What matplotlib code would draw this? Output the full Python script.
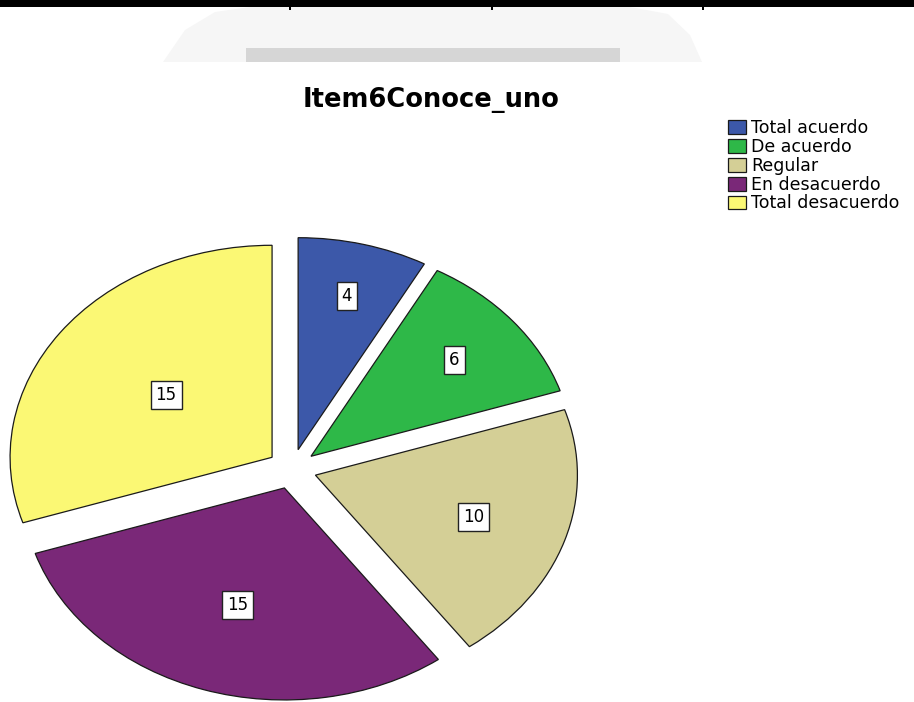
import numpy as np
import matplotlib
matplotlib.use("Agg")
import matplotlib.pyplot as plt
from matplotlib.patches import Rectangle, Polygon

# data
categories = ['Total acuerdo', 'De acuerdo', 'Regular', 'En desacuerdo', 'Total desacuerdo']
counts = [4, 6, 10, 15, 15]
colors = ['#3C58A9', '#2EB848', '#D4CF96', '#7A2878', '#FBF874']
title = 'Item6Conoce_uno'

# layout: distance of each value box from its wedge tip (fraction of radius)
label_dist = [0.75, 0.71, 0.635, 0.58, 0.50]

W, H = 914, 702
fig = plt.figure(figsize=(W / 100, H / 100), dpi=100)
fig.patch.set_facecolor('white')


def fx(px):
    return px / W


def fy(py):
    return 1 - py / H


# page decoration at the top (scanned document look)
wm = Polygon([(fx(163), fy(62)), (fx(185), fy(30)), (fx(215), fy(12)), (fx(250), fy(7)),
              (fx(630), fy(7)), (fx(668), fy(14)), (fx(690), fy(35)), (fx(702), fy(62))],
             closed=True, transform=fig.transFigure, facecolor='#f6f6f6', edgecolor='none')
fig.patches.append(wm)
fig.patches.append(Rectangle((fx(246), fy(62)), fx(620) - fx(246), fy(48) - fy(62),
                             transform=fig.transFigure, facecolor='#d6d6d6', edgecolor='none'))
fig.patches.append(Rectangle((0, fy(7)), 1, fy(0) - fy(7), transform=fig.transFigure,
                             facecolor='black', edgecolor='none'))
for tx in [290, 492, 703]:
    fig.patches.append(Rectangle((fx(tx - 1), fy(10)), fx(2), fy(0) - fy(10),
                                 transform=fig.transFigure, facecolor='black', edgecolor='none'))

# pie: the image is stretched horizontally, so use a non-equal aspect
cx, cy, rx, ry = 292, 469, 262, 212
ax = fig.add_axes([0, 0, 1, 1])
wedges, _ = ax.pie(counts, colors=colors, startangle=90, counterclock=False,
                   explode=[0.094] * len(counts),
                   wedgeprops=dict(edgecolor='#1a1a1a', linewidth=0.9))
ax.set_aspect('auto')
ax.set_xlim(-cx / rx, (W - cx) / rx)
ax.set_ylim(-(H - cy) / ry, cy / ry)
ax.axis('off')

# value labels
for w, n, d in zip(wedges, counts, label_dist):
    mid = np.deg2rad((w.theta1 + w.theta2) / 2)
    x = w.center[0] + d * w.r * np.cos(mid)
    y = w.center[1] + d * w.r * np.sin(mid)
    ax.text(x, y, str(n), ha='center', va='center', fontsize=12,
            bbox=dict(boxstyle='square,pad=0.3', facecolor='white', edgecolor='#222222', linewidth=1.0))

fig.text(fx(431), fy(100), title, ha='center', va='center', fontsize=18.5, fontweight='bold')

fig.legend(wedges, categories, loc='upper left', bbox_to_anchor=(fx(728), fy(119)),
           frameon=False, fontsize=12.5, handlelength=1.05, handleheight=0.85,
           handletextpad=0.3, labelspacing=0.05, borderpad=0, borderaxespad=0)

fig.savefig('out.png', dpi=100)
